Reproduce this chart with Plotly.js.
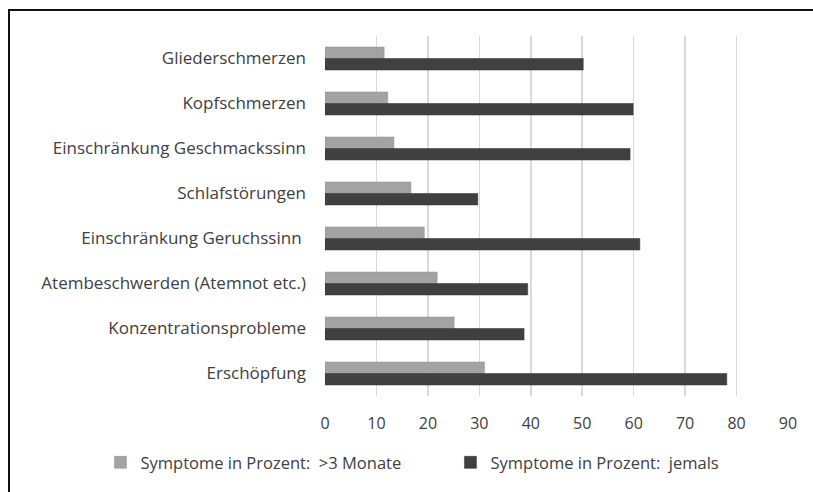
<!DOCTYPE html>
<html>
<head>
<meta charset="utf-8">
<script src="https://cdn.plot.ly/plotly-3.0.1.min.js"></script>
<style>
  html, body { margin: 0; padding: 0; background: #fff; }
  #wrap { position: relative; width: 813px; height: 492px; overflow: hidden; }
  #chart { position: absolute; left: 0; top: 0; width: 813px; height: 492px; }
  #frame { position: absolute; left: 8px; top: 9px; width: 820px; height: 500px;
           border-left: 2px solid #111; border-top: 2px solid #111; pointer-events: none; }
</style>
</head>
<body>
<div id="wrap">
  <div id="chart"></div>
  <div id="frame"></div>
</div>
<script>
const categories = [
  "Gliederschmerzen",
  "Kopfschmerzen",
  "Einschränkung Geschmackssinn",
  "Schlafstörungen",
  "Einschränkung Geruchssinn ",
  "Atembeschwerden (Atemnot etc.)",
  "Konzentrationsprobleme",
  "Erschöpfung"
];
const over3Months = [11.5, 12.2, 13.4, 16.7, 19.3, 21.8, 25.1, 31.0];
const ever = [50.2, 59.9, 59.3, 29.7, 61.2, 39.4, 38.7, 78.1];
const seriesNames = ["Symptome in Prozent:  >3 Monate", "Symptome in Prozent:  jemals"];
const tickValues = [0, 10, 20, 30, 40, 50, 60, 70, 80, 90];

const font = "Open Sans, sans-serif";

const traces = [
  {
    type: "bar", orientation: "h",
    y: categories, x: over3Months, name: seriesNames[0],
    marker: { color: "#a3a3a3", line: { color: "#8f8f8f", width: 0.5 } },
    hoverinfo: "skip"
  },
  {
    type: "bar", orientation: "h",
    y: categories, x: ever, name: seriesNames[1],
    marker: { color: "#404040", line: { color: "#2e2e2e", width: 0.5 } },
    hoverinfo: "skip"
  }
];

const layout = {
  width: 813, height: 492,
  margin: { l: 325, r: 25, t: 36, b: 94 },
  paper_bgcolor: "#ffffff",
  plot_bgcolor: "#ffffff",
  barmode: "group",
  bargap: 0.49,
  bargroupgap: 0,
  font: { family: font, size: 17, color: "#404040" },
  showlegend: true,
  legend: {
    orientation: "h",
    x: -0.485, xanchor: "left",
    y: -0.185, yanchor: "middle",
    font: { family: font, size: 16.5, color: "#404040" },
    itemwidth: 30,
    entrywidth: 305,
    traceorder: "normal"
  },
  xaxis: {
    range: [0, 90],
    tickvals: tickValues,
    ticktext: tickValues.map(String),
    showgrid: true,
    gridcolor: "#d9d9d9",
    gridwidth: 1.5,
    zeroline: false,
    showline: false,
    ticks: "",
    ticklabelstandoff: 16,
    tickfont: { family: font, size: 16, color: "#404040" },
    fixedrange: true
  },
  yaxis: {
    type: "category",
    autorange: "reversed",
    showgrid: false,
    zeroline: false,
    showline: false,
    ticks: "",
    ticklabelstandoff: 18,
    tickfont: { family: font, size: 17, color: "#404040" },
    fixedrange: true
  }
};

Plotly.newPlot("chart", traces, layout, { displayModeBar: false, staticPlot: true });
</script>
</body>
</html>
